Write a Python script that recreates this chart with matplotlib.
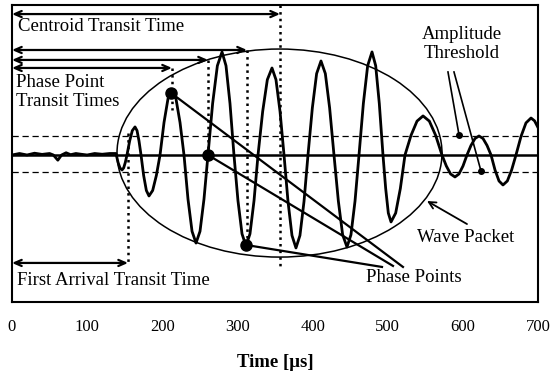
import matplotlib
matplotlib.use("Agg")
import matplotlib.pyplot as plt
from matplotlib.patches import Ellipse

plt.rcParams["font.family"] = ["Liberation Serif", "DejaVu Serif"]

# received signal (time in us, amplitude in arbitrary units)
time_us = [
    0, 10, 20, 30, 40, 50, 55, 61, 66, 72, 78, 85, 92, 100, 110, 120, 130, 138.4,
    141.1, 143.7, 146.4, 148.6, 150.8, 153.0,
    156.6, 160.1, 163.7, 166.4, 169.0, 171.7,
    175.2, 178.8, 182.3, 187.2, 192.1, 197.0,
    202.3, 207.6, 212.9, 218.2, 223.6, 228.9,
    234.2, 239.6, 244.9, 250.2, 255.5, 260.8,
    267.0, 273.3, 279.5, 284.8, 290.1, 295.4,
    300.7, 306.1, 311.4, 316.7, 322.1, 327.4,
    333.6, 339.8, 346.0, 351.3, 356.7, 362.0,
    367.3, 372.6, 377.9, 383.2, 388.6, 393.9,
    399.7, 405.4, 411.2, 417.0, 422.7, 428.5,
    434.3, 440.0, 445.8, 451.1, 456.5, 461.8,
    467.6, 473.3, 479.1, 484.0, 488.8, 493.7,
    497.3, 500.8, 504.4, 510.6, 516.8, 523.0,
    531.0, 539.0, 547.0, 555.4, 563.8, 572.2,
    578.0, 583.7, 589.5, 594.8, 600.2, 605.5,
    610.8, 616.2, 621.5, 626.8, 632.2, 637.5,
    642.8, 648.1, 653.4, 659.2, 664.9, 670.7,
    677.4, 684.0, 690.7, 695.4, 700,
]
amplitude = [
    0.0, 0.01, 0.0, 0.012, 0.004, 0.01, 0.0, -0.035, 0.0, 0.015, 0.002, 0.01, 0.005, 0.0, 0.01, 0.005, 0.01, 0.01,
    -0.05, -0.087, -0.101, -0.087, -0.05, 0.0,
    0.095, 0.164, 0.189, 0.164, 0.095, 0.0,
    -0.138, -0.239, -0.276, -0.239, -0.138, 0.0,
    0.219, 0.379, 0.438, 0.379, 0.219, 0.0,
    -0.297, -0.514, -0.593, -0.514, -0.297, 0.0,
    0.347, 0.601, 0.694, 0.601, 0.347, 0.0,
    -0.307, -0.531, -0.613, -0.531, -0.307, 0.0,
    0.293, 0.507, 0.586, 0.507, 0.293, 0.0,
    -0.313, -0.542, -0.626, -0.542, -0.313, 0.0,
    0.317, 0.548, 0.633, 0.548, 0.317, 0.0,
    -0.31, -0.537, -0.62, -0.537, -0.31, 0.0,
    0.347, 0.601, 0.694, 0.601, 0.347, 0.0,
    -0.226, -0.391, -0.451, -0.391, -0.226, 0.0,
    0.132, 0.228, 0.263, 0.228, 0.132, 0.0,
    -0.074, -0.128, -0.148, -0.128, -0.074, 0.0,
    0.064, 0.111, 0.128, 0.111, 0.064, 0.0,
    -0.101, -0.175, -0.202, -0.175, -0.101, 0.0,
    0.125, 0.216, 0.249, 0.23, 0.185,
]

# amplitude threshold levels
threshold_hi = 0.13
threshold_lo = -0.112

# phase points on the waveform
phase_t = [211.6, 260.8, 311.4]
phase_a = [0.418, 0.0, -0.606]
# transit time markers
first_arrival_t = 154.4
centroid_t = 356.7
phase_arrow_a = [0.586, 0.640, 0.707]
phase_arrow_t = [212.9, 260.8, 312.7]

tick_values = [0, 100, 200, 300, 400, 500, 600, 700]

fig = plt.figure(figsize=(5.53, 3.81), dpi=100)
ax = fig.add_axes([12 / 553, 1 - 302 / 381, 526 / 553, 297 / 381])

ax.plot(time_us, amplitude, color="black", lw=2.0, zorder=3)
ax.axhline(0, color="black", lw=1.8)
ax.axhline(threshold_hi, color="black", lw=0.9, ls=(0, (5, 3)))
ax.axhline(threshold_lo, color="black", lw=0.9, ls=(0, (5, 3)))

# wave packet ellipse
ax.add_patch(Ellipse((356.0, 0.013), 432.5, 1.401, fill=False, ec="black", lw=1.1))

# dotted markers
dot_kw = dict(color="black", lw=1.8, ls=":")
ax.plot([first_arrival_t, first_arrival_t], [0.15, -0.74], **dot_kw)
ax.plot([centroid_t, centroid_t], [1.01, -0.76], **dot_kw)
ax.plot([phase_arrow_t[0]] * 2, [phase_arrow_a[0], 0.30], **dot_kw)
ax.plot([phase_arrow_t[1]] * 2, [phase_arrow_a[1], 0.0], **dot_kw)
ax.plot([phase_arrow_t[2]] * 2, [phase_arrow_a[2], -0.61], **dot_kw)

arrow_kw = dict(arrowstyle="<->,head_length=0.5,head_width=0.22", lw=1.6,
                color="black", shrinkA=0, shrinkB=0)
ax.annotate("", xy=(0, 0.949), xytext=(centroid_t, 0.949), arrowprops=arrow_kw)
for t, a in zip(phase_arrow_t, phase_arrow_a):
    ax.annotate("", xy=(0, a), xytext=(t, a), arrowprops=arrow_kw)
ax.annotate("", xy=(0, -0.727), xytext=(first_arrival_t, -0.727), arrowprops=arrow_kw)

# phase points and their leader lines
ax.plot(phase_t, phase_a, "o", color="black", ms=8, zorder=4)
line_ends = [(520.3, -0.754), (507.0, -0.747), (492.4, -0.754)]
for t, a, (te, ae) in zip(phase_t, phase_a, line_ends):
    ax.plot([t, te], [a, ae], color="black", lw=1.6)

# amplitude threshold leaders
ax.plot([580.2, 594.9], [0.559, 0.135], color="black", lw=1.2)
ax.plot([588.2, 624.1], [0.559, -0.108], color="black", lw=1.2)
ax.plot([594.9, 624.1], [0.135, -0.108], "o", color="black", ms=4)

# wave packet arrow
ax.annotate("", xy=(552.3, -0.31), xytext=(605.5, -0.465),
            arrowprops=dict(arrowstyle="->,head_length=0.5,head_width=0.25",
                            lw=1.3, color="black", shrinkA=0, shrinkB=0))

fs = 13.5
ax.text(8.0, 0.862, "Centroid Transit Time", fontsize=fs, va="center")
ax.text(5.3, 0.424, "Phase Point\nTransit Times", fontsize=fs, va="center")
ax.text(6.7, -0.842, "First Arrival Transit Time", fontsize=fs, va="center")
ax.text(604.2, -0.559, "Wave Packet", fontsize=fs, ha="center", va="center")
ax.text(471.1, -0.822, "Phase Points", fontsize=fs, va="center")
ax.text(598.9, 0.747, "Amplitude\nThreshold", fontsize=fs, ha="center", va="center")

ax.set_xlim(0, 700)
ax.set_ylim(-0.99, 1.01)
ax.set_yticks([])
ax.set_xticks(tick_values)
ax.tick_params(axis="x", length=0, pad=12, labelsize=12)
ax.set_xlabel("Time [\u03bcs]", fontsize=13.5, fontweight="bold", labelpad=14)
for s in ax.spines.values():
    s.set_linewidth(1.5)

fig.savefig("out.png", dpi=100)
